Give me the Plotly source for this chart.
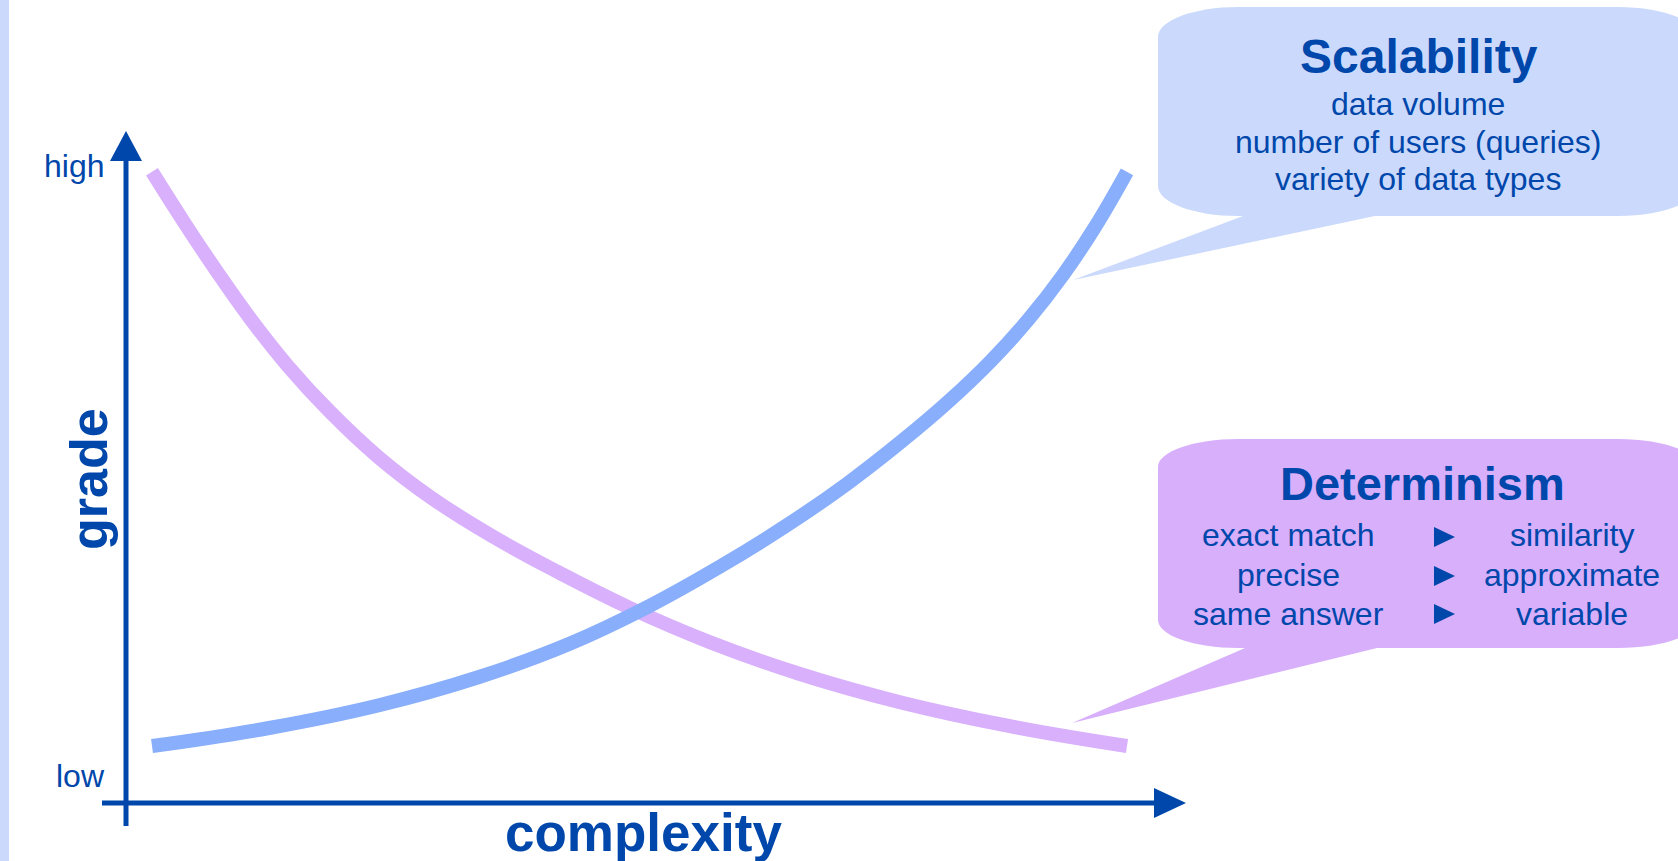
import plotly.graph_objects as go

# curves (complexity -> grade, arbitrary units)
scalability_x = [0.26, 1.43, 2.53, 3.53, 4.43, 5.23, 5.95, 6.61,
                 7.21, 7.75, 8.23, 8.65, 9.03, 9.37, 9.69, 10.01]
scalability_y = [0.95, 1.25, 1.63, 2.10, 2.65, 3.28, 3.95, 4.63,
                 5.32, 6.02, 6.70, 7.37, 8.07, 8.80, 9.60, 10.52]
determinism_x = [0.26, 0.58, 0.90, 1.24, 1.62, 2.04, 2.52, 3.06,
                 3.66, 4.32, 5.04, 5.84, 6.74, 7.74, 8.84, 10.01]
determinism_y = [10.52, 9.68, 8.88, 8.08, 7.28, 6.52, 5.77, 5.08,
                 4.45, 3.85, 3.25, 2.68, 2.15, 1.68, 1.28, 0.95]

grade_ticks = [10.62, 0.45]
grade_labels = ['high', 'low']

scalability_title = 'Scalability'
scalability_items = ['data volume', 'number of users (queries)', 'variety of data types']
determinism_title = 'Determinism'
determinism_from = ['exact match', 'precise', 'same answer']
determinism_to = ['similarity', 'approximate', 'variable']

W, H = 1678, 861
X0, Y0, SX, SY = 126, 803, 100.0, 60.0   # axis origin in px, px per unit

DARK = '#0047AB'
BLUE = '#88AEFC'
PURPLE = '#D8B0FC'
BLUE_FILL = '#CBDAFC'
PURPLE_FILL = '#D7AFFB'
FONT = 'Liberation Sans, Arial, sans-serif'


def ux(px):
    return (px - X0) / SX


def uy(py):
    return (Y0 - py) / SY


def P(x, y):
    return f"{ux(x):.4f},{uy(y):.4f}"


def bubble_path(l, t, r, b, rx, ry, base_a, base_b, tip):
    k = 0.55
    tx, ty = tip
    return (f"M{P(l + rx, t)} L{P(r - rx, t)} "
            f"C{P(r - rx + k * rx, t)} {P(r, t + ry - k * ry)} {P(r, t + ry)} "
            f"L{P(r, b - ry)} "
            f"C{P(r, b - ry + k * ry)} {P(r - rx + k * rx, b)} {P(r - rx, b)} "
            f"L{P(base_b, b)} L{P(tx, ty)} L{P(base_a, b)} L{P(l + rx, b)} "
            f"C{P(l + rx - k * rx, b)} {P(l, b - ry + k * ry)} {P(l, b - ry)} "
            f"L{P(l, t + ry)} "
            f"C{P(l, t + ry - k * ry)} {P(l + rx - k * rx, t)} {P(l + rx, t)} Z")


def tri(points):
    return "M" + " L".join(P(x, y) for x, y in points) + " Z"


fig = go.Figure()

shapes = []
# left edge strip
shapes.append(dict(type='rect', xref='paper', yref='paper', x0=0, x1=9 / W, y0=0, y1=1,
                   fillcolor=BLUE_FILL, line_width=0, layer='below'))
# callouts
shapes.append(dict(type='path', path=bubble_path(1158, 7, 1698, 216, 80, 30, 1243, 1375, (1073, 280)),
                   fillcolor=BLUE_FILL, line_width=0, layer='below'))
shapes.append(dict(type='path', path=bubble_path(1158, 439, 1698, 648, 80, 28, 1245, 1377, (1072, 723)),
                   fillcolor=PURPLE_FILL, line_width=0, layer='below'))
# axes
shapes.append(dict(type='line', x0=ux(126), x1=ux(126), y0=uy(826), y1=uy(158),
                   line=dict(color=DARK, width=5)))
shapes.append(dict(type='line', x0=ux(102), x1=ux(1158), y0=uy(803), y1=uy(803),
                   line=dict(color=DARK, width=5)))
shapes.append(dict(type='path', path=tri([(126, 131), (142, 161), (110, 161)]),
                   fillcolor=DARK, line_width=0))
shapes.append(dict(type='path', path=tri([(1186, 803), (1154, 788), (1154, 818)]),
                   fillcolor=DARK, line_width=0))
# arrows inside determinism callout
for cy in [537, 576, 614]:
    shapes.append(dict(type='path', path=tri([(1434, cy - 10), (1455, cy), (1434, cy + 10)]),
                       fillcolor=DARK, line_width=0))

fig.add_trace(go.Scatter(x=determinism_x, y=determinism_y, mode='lines',
                         line=dict(color=PURPLE, width=14, shape='spline', smoothing=1.2),
                         hoverinfo='skip', showlegend=False))
fig.add_trace(go.Scatter(x=scalability_x, y=scalability_y, mode='lines',
                         line=dict(color=BLUE, width=14, shape='spline', smoothing=1.2),
                         hoverinfo='skip', showlegend=False))

ann = []


def text(x, y, s, size, bold=False, xanchor='center', angle=0):
    if bold:
        s = f'<b>{s}</b>'
    ann.append(dict(x=x, y=y, text=s, showarrow=False, xanchor=xanchor, yanchor='middle',
                    textangle=angle, font=dict(family=FONT, size=size, color=DARK)))


for v, lab in zip(grade_ticks, grade_labels):
    text(ux(107), v, lab, 32, xanchor='right')

text(ux(643), uy(832), 'complexity', 53, bold=True)
text(ux(89), uy(479), 'grade', 52, bold=True, angle=-90)

text(ux(1419), uy(56), scalability_title, 48, bold=True)
for i, item in enumerate(scalability_items):
    text(ux(1418), uy(104 + 37.5 * i), item, 32)

text(ux(1422), uy(483), determinism_title, 47, bold=True)
for i, (a, b) in enumerate(zip(determinism_from, determinism_to)):
    yy = uy(535 + 39.5 * i)
    text(ux(1288), yy, a, 32)
    text(ux(1572), yy, b, 32)

fig.update_layout(
    width=W, height=H,
    margin=dict(l=0, r=0, t=0, b=0),
    paper_bgcolor='white', plot_bgcolor='white',
    xaxis=dict(range=[ux(0), ux(W)], visible=False, fixedrange=True),
    yaxis=dict(range=[uy(H), uy(0)], visible=False, fixedrange=True),
    shapes=shapes,
    annotations=ann,
)

fig.write_html('out.html', config={'displayModeBar': False},
               post_script="document.body.style.margin='0px';document.body.style.overflow='hidden';")
